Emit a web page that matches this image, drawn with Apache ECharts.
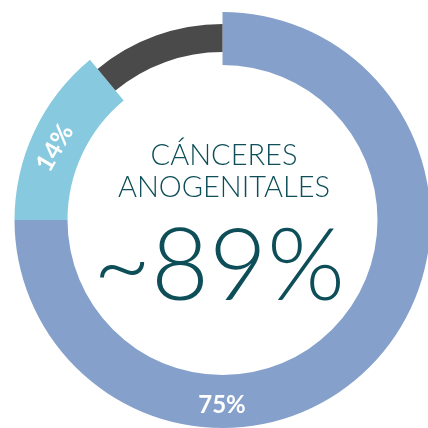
<!DOCTYPE html>
<html>
<head>
<meta charset="utf-8">
<script src="https://cdn.jsdelivr.net/npm/echarts@6/dist/echarts.min.js"></script>
<style>
html, body { margin: 0; padding: 0; background: #fff; }
#main { width: 428px; height: 428px; }
</style>
</head>
<body>
<div id="main"></div>
<script>
// segmentos del anillo, en sentido horario desde arriba
var names = ['VPH 16/18', 'VPH 31/33/45/52/58', 'Otros'];
var values = [75, 14, 11];
var colors = ['#85a1cb', '#87cadf', '#4a4a4a'];
var title = ['CÁNCERES', 'ANOGENITALES'];
var total = '~89%';

var outerData = values.map(function (v, i) {
    return {
        name: names[i], value: v,
        itemStyle: { color: i < 2 ? colors[i] : 'rgba(0,0,0,0)' }
    };
});
var innerData = values.map(function (v, i) {
    return {
        name: names[i], value: v,
        itemStyle: { color: i === 2 ? colors[i] : 'rgba(0,0,0,0)' }
    };
});

var txt = '#0d4e58';
var chart = echarts.init(document.getElementById('main'));
chart.setOption({
    animation: false,
    series: [{
        type: 'pie',
        center: [222.5, 220],
        radius: [155, 208],
        startAngle: 90,
        clockwise: true,
        silent: true,
        data: outerData,
        label: { show: false },
        labelLine: { show: false }
    }, {
        type: 'pie',
        center: [222.5, 220],
        radius: [168, 196],
        startAngle: 90,
        clockwise: true,
        silent: true,
        data: innerData,
        label: { show: false },
        labelLine: { show: false }
    }],
    graphic: [{
        type: 'text',
        z: 100,
        x: 222, y: 405,
        style: { text: values[0] + '%', fill: '#fff', font: 'bold 24px Lato', align: 'center', verticalAlign: 'middle' }
    }, {
        type: 'text',
        z: 100,
        x: 55, y: 148,
        rotation: 60 * Math.PI / 180,
        style: { text: values[1] + '%', fill: '#fff', font: 'bold 25px Lato', align: 'center', verticalAlign: 'middle' }
    }, {
        type: 'text',
        z: 100,
        x: 224, y: 156,
        style: { text: title[0], fill: txt, font: '300 29px Lato', align: 'center', verticalAlign: 'middle' }
    }, {
        type: 'text',
        z: 100,
        x: 224, y: 188,
        style: { text: title[1], fill: txt, font: '300 29px Lato', align: 'center', verticalAlign: 'middle' }
    }, {
        type: 'text',
        z: 100,
        x: 219, y: 268,
        style: { text: total, fill: txt, font: '300 100px Lato', align: 'center', verticalAlign: 'middle' }
    }]
});
</script>
</body>
</html>
